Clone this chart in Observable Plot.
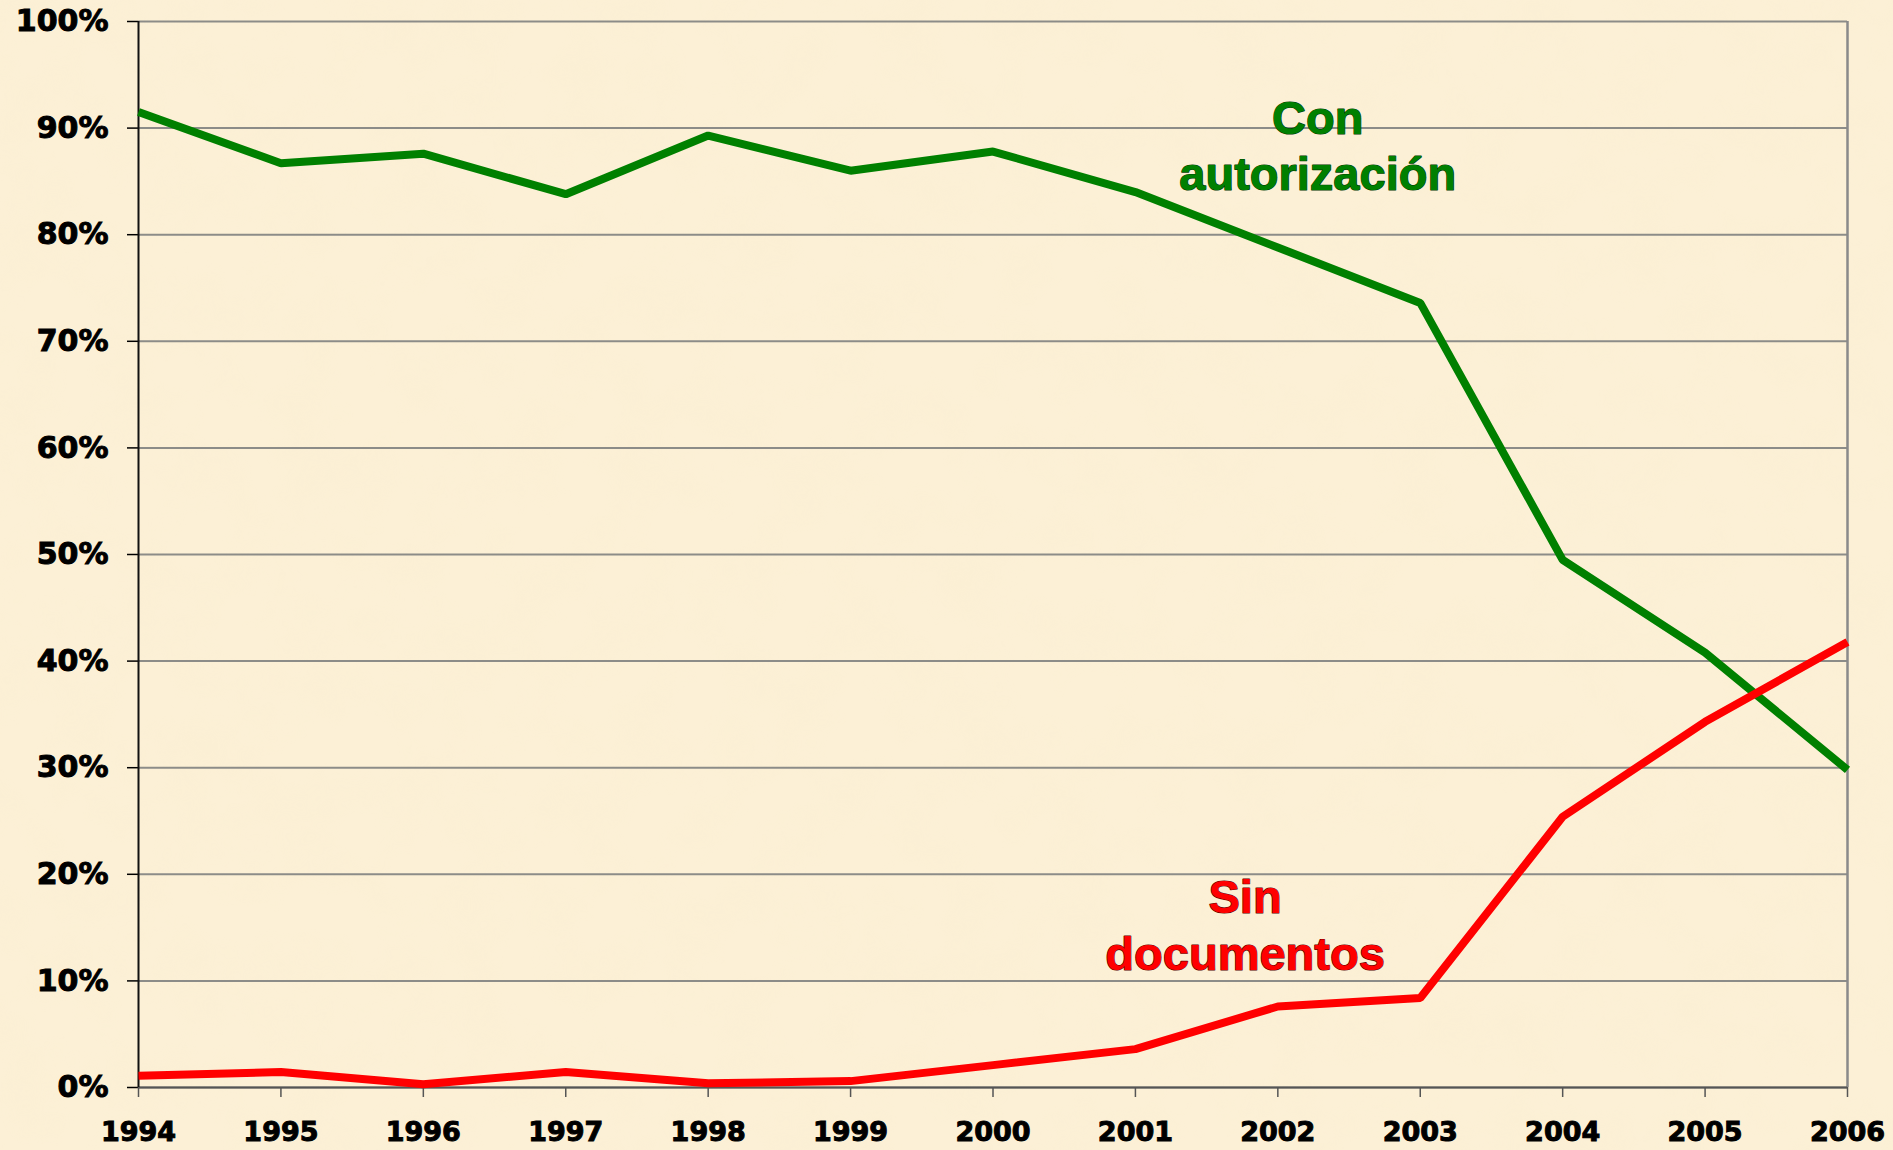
<!DOCTYPE html>
<html>
<head>
<meta charset="utf-8">
<script src="https://cdn.jsdelivr.net/npm/d3@7"></script>
<script src="https://cdn.jsdelivr.net/npm/@observablehq/plot@0.6"></script>
<style>
  html, body { margin: 0; padding: 0; background: #fcf0d6; }
  #chart svg { display: block; }
</style>
</head>
<body>
<div id="chart"></div>
<script>
// Data
const years = [1994, 1995, 1996, 1997, 1998, 1999, 2000, 2001, 2002, 2003, 2004, 2005, 2006];
const conAutorizacion = [91.5, 86.7, 87.6, 83.8, 89.3, 86.0, 87.8, 84.0, 78.8, 73.6, 49.5, 40.8, 29.8];
const sinDocumentos = [1.1, 1.45, 0.3, 1.45, 0.4, 0.6, 2.1, 3.6, 7.6, 8.4, 25.4, 34.3, 41.8];
const yTicks = [0, 10, 20, 30, 40, 50, 60, 70, 80, 90, 100];
const seriesNames = ["Con autorización", "Sin documentos"];
const labelCon = "Con\nautorización";
const labelSin = "Sin\ndocumentos";

const rows = [];
years.forEach((yr, i) => {
  rows.push({year: yr, value: conAutorizacion[i], series: seriesNames[0]});
  rows.push({year: yr, value: sinDocumentos[i], series: seriesNames[1]});
});

const tickFont = "DejaVu Sans";

const chart = Plot.plot({
  width: 1893,
  height: 1150,
  marginLeft: 138,
  marginRight: 46,
  marginTop: 21,
  marginBottom: 63,
  style: {background: "#fcf0d6", overflow: "visible"},
  x: {domain: [1994, 2006]},
  y: {domain: [0, 100]},
  color: {domain: seriesNames, range: ["#008000", "#ff0000"]},
  marks: [
    Plot.gridY(yTicks, {stroke: "#8c8c88", strokeOpacity: 1, strokeWidth: 2}),
    Plot.ruleX([2006], {stroke: "#8a8a8a", strokeWidth: 2.5}),
    Plot.axisY(yTicks, {
      tickSize: 11, tickPadding: 19, stroke: "#000", strokeWidth: 1.5,
      tickFormat: d => d + "%", fontSize: 30, fontWeight: "bold",
      fontFamily: tickFont, fill: "#000", label: null
    }),
    Plot.axisX(years, {
      tickSize: 10, tickPadding: 24, stroke: "#555", strokeWidth: 1.5,
      tickFormat: d => String(d), fontSize: 27, fontWeight: "bold",
      fontFamily: tickFont, fill: "#000", label: null
    }),
    Plot.ruleY([0], {stroke: "#555", strokeWidth: 2}),
    Plot.ruleX([1994], {stroke: "#111", strokeWidth: 2}),
    Plot.line(rows, {
      x: "year", y: "value", z: "series", stroke: "series",
      strokeWidth: 8, strokeLinejoin: "miter", strokeLinecap: "butt"
    }),
    Plot.text([labelCon], {
      x: 2002.28, y: 88.5, text: d => d,
      fill: "#008000", stroke: "#003a00", strokeWidth: 1.2,
      fontSize: 47, fontWeight: "bold", fontFamily: "Liberation Sans",
      lineHeight: 1.2, textAnchor: "middle", lineAnchor: "middle"
    }),
    Plot.text([labelSin], {
      x: 2001.77, y: 15.4, text: d => d,
      fill: "#ff0000", stroke: "#550000", strokeWidth: 1.2,
      fontSize: 47, fontWeight: "bold", fontFamily: "Liberation Sans",
      lineHeight: 1.2, textAnchor: "middle", lineAnchor: "middle"
    })
  ]
});

// Heavier tick labels, like the reference
d3.select(chart).selectAll('g[aria-label="y-axis tick label"], g[aria-label="x-axis tick label"]')
  .attr("stroke", "#000").attr("stroke-width", 1).attr("paint-order", "stroke");

// Subtle parchment texture behind everything
const svg = d3.select(chart);
const defs = svg.insert("defs", ":first-child");
const f = defs.append("filter").attr("id", "paper")
  .attr("x", 0).attr("y", 0).attr("width", "100%").attr("height", "100%");
f.append("feTurbulence").attr("type", "fractalNoise").attr("baseFrequency", "0.018")
  .attr("numOctaves", 3).attr("seed", 7).attr("result", "noise");
f.append("feColorMatrix").attr("in", "noise").attr("type", "matrix")
  .attr("values", "0 0 0 0 0.90  0 0 0 0 0.80  0 0 0 0 0.55  0.55 0 0 0 -0.22");
svg.insert("rect", "defs + *")
  .attr("x", 0).attr("y", 0).attr("width", 1893).attr("height", 1150)
  .attr("filter", "url(#paper)").attr("opacity", 0.35);

document.getElementById("chart").appendChild(chart);
</script>
</body>
</html>
